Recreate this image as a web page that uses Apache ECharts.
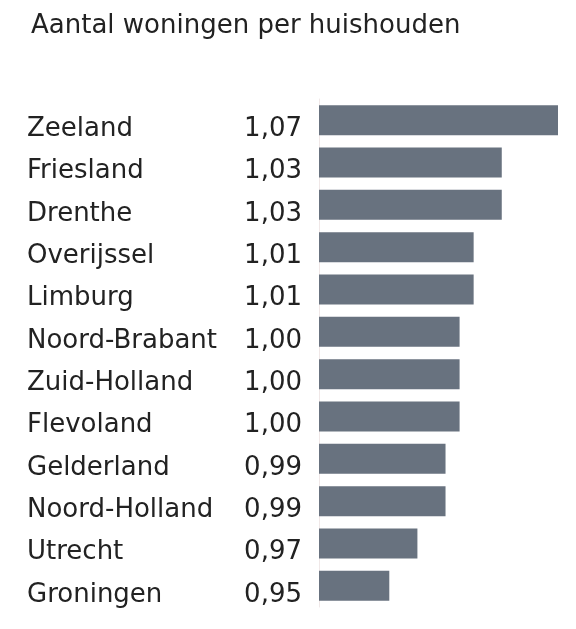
<!DOCTYPE html>
<html lang="nl">
<head>
    <meta charset="UTF-8">
    <title>Aantal woningen per huishouden</title>
    <script src="https://cdn.jsdelivr.net/npm/echarts@6/dist/echarts.min.js"></script>
    <style>
        body { margin: 0; background: #fff; }
        #root { width: 576px; height: 629px; }
    </style>
</head>
<body>
    <div id="root"></div>
    <script>
        var provinces = ['Zeeland', 'Friesland', 'Drenthe', 'Overijssel', 'Limburg', 'Noord-Brabant',
            'Zuid-Holland', 'Flevoland', 'Gelderland', 'Noord-Holland', 'Utrecht', 'Groningen'];
        var ratios = [1.07, 1.03, 1.03, 1.01, 1.01, 1.00, 1.00, 1.00, 0.99, 0.99, 0.97, 0.95];

        var font = 'DejaVu Sans';
        var chart = echarts.init(document.getElementById('root'));

        chart.setOption({
            animation: false,
            title: {
                text: 'Aantal woningen per huishouden',
                left: 26,
                top: 8,
                textStyle: { fontFamily: font, fontWeight: 'normal', fontSize: 26, color: '#222' }
            },
            grid: { left: 319, right: 18, top: 99, height: 508 },
            xAxis: {
                type: 'value',
                min: 0.9,
                max: 1.07,
                show: false
            },
            yAxis: {
                type: 'category',
                inverse: true,
                data: provinces,
                axisLine: { show: true, lineStyle: { color: '#f0e8e8', width: 1 } },
                axisTick: { show: false },
                axisLabel: {
                    align: 'left',
                    margin: 292,
                    formatter: function (name, i) {
                        return '{n|' + name + '}{v|' + ratios[i].toFixed(2).replace('.', ',') + '}';
                    },
                    rich: {
                        n: { width: 214, padding: [18, 0, 0, 0], fontFamily: font, fontSize: 26, color: '#222' },
                        v: { width: 61, padding: [18, 0, 0, 0], align: 'right', fontFamily: font, fontSize: 26, color: '#222' }
                    }
                }
            },
            series: [{
                type: 'bar',
                data: ratios,
                barWidth: 30,
                itemStyle: { color: '#68727f' }
            }]
        });
    </script>
</body>
</html>
